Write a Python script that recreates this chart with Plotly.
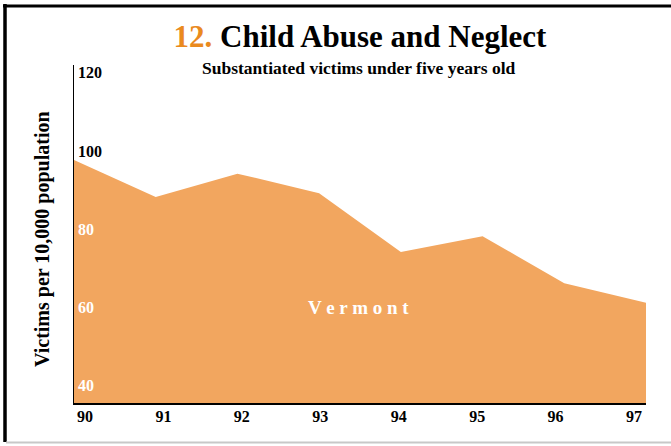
import plotly.graph_objects as go

# ---- data ----
years = [90, 91, 92, 93, 94, 95, 96, 97]
year_labels = ["90", "91", "92", "93", "94", "95", "96", "97"]
victims = [99.5, 90.0, 96.0, 91.0, 76.0, 80.0, 68.0, 63.0]
y_ticks = [40, 60, 80, 100, 120]
y_tick_colors = ["white", "white", "white", "black", "black"]
series_name = "Vermont"

ORANGE_FILL = "#F2A65F"
TITLE_ORANGE = "#EA8A1E"
FONT = "Liberation Serif"

W, H = 671, 446
L, R, T, B = 74, 25, 65, 43
PW = W - L - R
PH = H - T - B
Y_RANGE = [37.38, 123.77]


def px_x(px):
    return (px - L) / PW


def px_y(py):
    return (H - B - py) / PH


fig = go.Figure()

fig.add_trace(go.Scatter(
    x=years, y=victims, mode="none", fill="tozeroy",
    fillcolor=ORANGE_FILL, hoverinfo="skip", showlegend=False,
))
# invisible trace carrying the label axes
fig.add_trace(go.Scatter(
    x=years, y=victims, xaxis="x2", yaxis="y2", mode="lines",
    line=dict(width=0, color="rgba(0,0,0,0)"), hoverinfo="skip", showlegend=False,
))

ticktext_y = [f'<span style="color:{c}">{v}</span>' for v, c in zip(y_ticks, y_tick_colors)]
tickfont = dict(family=FONT, size=16, weight="bold", color="black")

fig.update_layout(
    width=W, height=H,
    margin=dict(l=L, r=R, t=T, b=B, pad=0),
    paper_bgcolor="white", plot_bgcolor="white",
    font=dict(family=FONT, color="black"),
    title=dict(
        text=f'<span style="color:{TITLE_ORANGE}">12.</span> Child Abuse and Neglect',
        font=dict(family=FONT, size=31, weight="bold", color="black"),
        xref="paper", x=0.5, xanchor="center",
        yref="container", y=1 - 36 / H, yanchor="middle",
    ),
    xaxis=dict(
        range=[years[0], years[-1]], showline=True, linecolor="black", linewidth=2,
        showgrid=False, zeroline=False, showticklabels=False, ticks="",
    ),
    xaxis2=dict(
        overlaying="x", anchor="free", position=0, side="bottom",
        range=[89.8597, 97.153], tickvals=years, ticktext=year_labels,
        showline=False, showgrid=False, zeroline=False, ticks="",
        tickfont=tickfont, ticklabelstandoff=2,
    ),
    yaxis=dict(
        range=Y_RANGE, showline=True, linecolor="black", linewidth=1,
        showgrid=False, zeroline=False, ticks="", showticklabels=False,
    ),
    yaxis2=dict(
        overlaying="y", anchor="free", position=0, side="right",
        range=Y_RANGE, showline=False, showgrid=False, zeroline=False, ticks="",
        tickvals=y_ticks, ticktext=ticktext_y,
        ticklabelshift=-7, ticklabelstandoff=3, tickfont=tickfont,
    ),
    annotations=[
        dict(
            text="Substantiated victims under five years old",
            xref="paper", yref="paper", x=px_x(358), y=px_y(68),
            xanchor="center", yanchor="middle", showarrow=False,
            font=dict(family=FONT, size=17.5, weight="bold", color="black"),
        ),
        dict(
            text="Victims per 10,000 population",
            xref="paper", yref="paper", x=px_x(42), y=px_y(239),
            xanchor="center", yanchor="middle", showarrow=False, textangle=-90,
            font=dict(family=FONT, size=20, weight="bold", color="black"),
        ),
        dict(
            text=" ".join(series_name),
            xref="paper", yref="paper", x=px_x(358), y=px_y(307),
            xanchor="center", yanchor="middle", showarrow=False,
            font=dict(family=FONT, size=19, weight="bold", color="white"),
        ),
    ],
    shapes=[
        dict(type="line", xref="paper", yref="paper",
             x0=px_x(5), x1=px_x(5), y0=px_y(4), y1=px_y(442),
             line=dict(color="black", width=3.5)),
        dict(type="line", xref="paper", yref="paper",
             x0=px_x(3), x1=px_x(672), y0=px_y(6), y1=px_y(6),
             line=dict(color="black", width=3)),
        dict(type="line", xref="paper", yref="paper",
             x0=px_x(6), x1=px_x(672), y0=px_y(442.5), y1=px_y(442.5),
             line=dict(color="#C8C8C8", width=2)),
    ],
)

fig.write_html("out.html")
